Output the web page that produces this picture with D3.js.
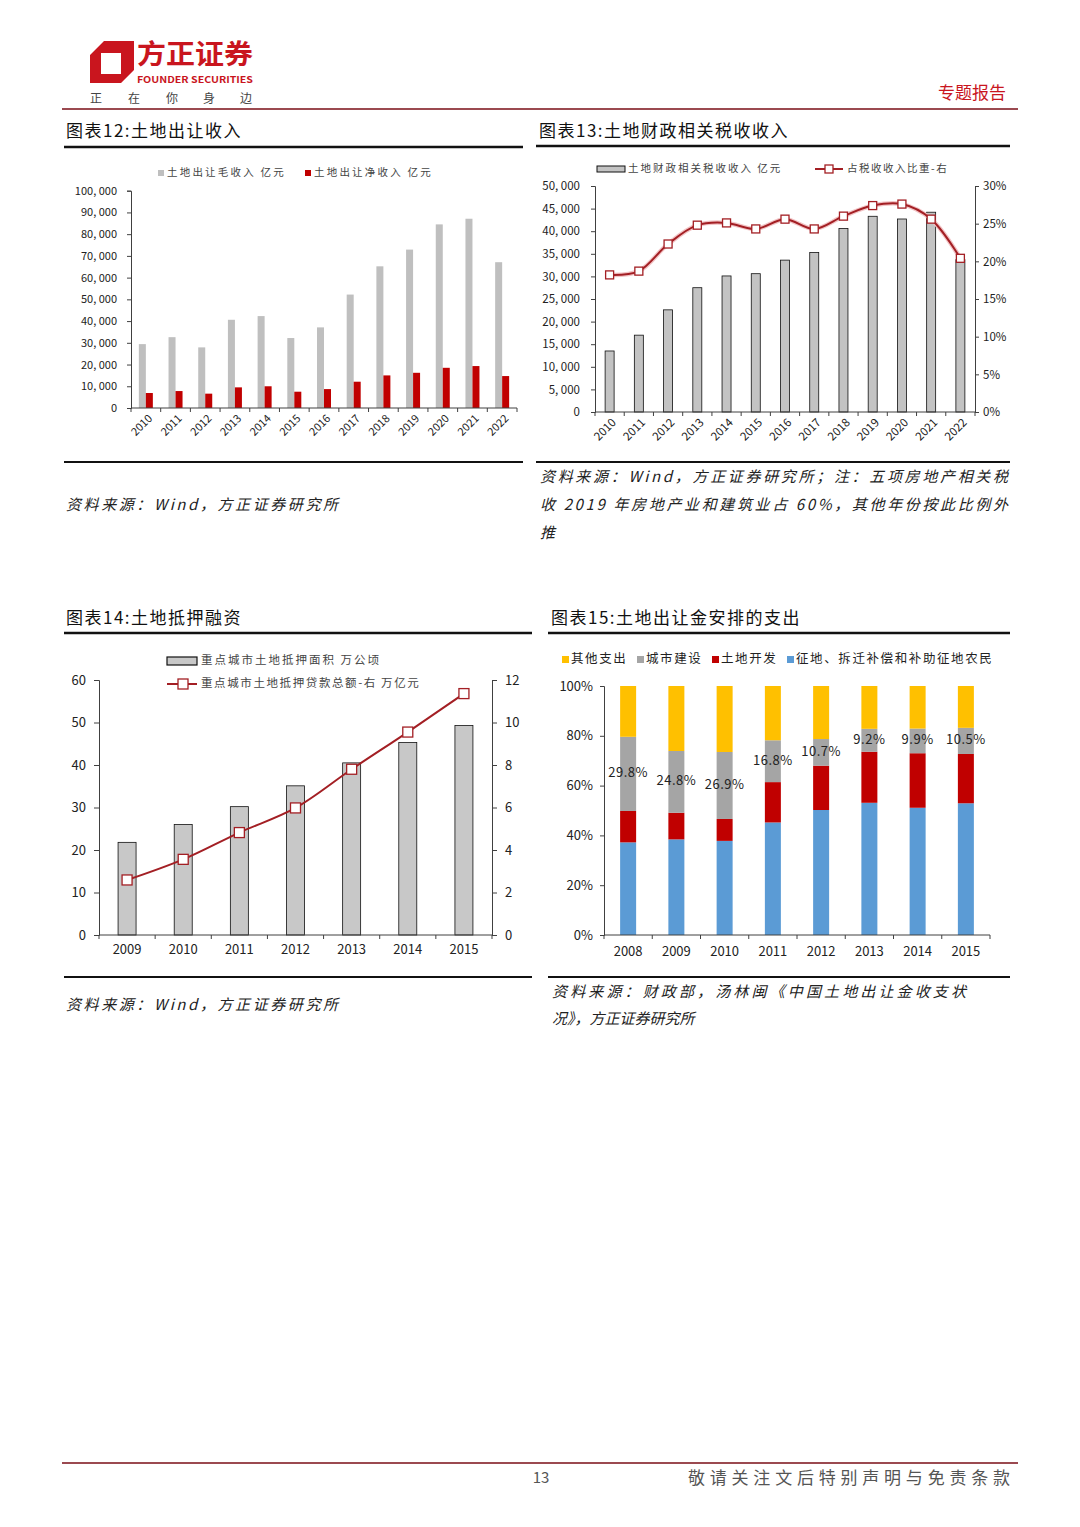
<!DOCTYPE html>
<html><head><meta charset="utf-8">
<script src="https://cdn.jsdelivr.net/npm/d3@7"></script>
<style>body{margin:0;background:#fff}svg{display:block}</style>
</head><body><div id="chart"></div>
<script>
// ---------------- DATA ----------------
const years12 = ["2010","2011","2012","2013","2014","2015","2016","2017","2018","2019","2020","2021","2022"];
const grossIncome12 = [29400,32600,27900,40600,42300,32200,37100,52200,65200,72900,84500,87100,67100];
const netIncome12 = [6900,7800,6600,9500,10000,7500,8700,12100,15000,16200,18500,19300,14700];
const yTicks12 = [0,10000,20000,30000,40000,50000,60000,70000,80000,90000,100000];
const legend12 = ["土地出让毛收入 亿元","土地出让净收入 亿元"];

const years13 = ["2010","2011","2012","2013","2014","2015","2016","2017","2018","2019","2020","2021","2022"];
const taxRevenue13 = [13500,17000,22600,27500,30100,30600,33600,35300,40600,43300,42700,44200,33700];
const taxShare13 = [18.2,18.7,22.3,24.8,25.1,24.3,25.6,24.3,26.0,27.4,27.6,25.6,20.4];
const yTicks13 = [0,5000,10000,15000,20000,25000,30000,35000,40000,45000,50000];
const yTicks13R = [0,5,10,15,20,25,30];
const legend13 = ["土地财政相关税收收入 亿元","占税收收入比重-右"];

const years14 = ["2009","2010","2011","2012","2013","2014","2015"];
const mortgageArea14 = [21.8,26.0,30.2,35.1,40.5,45.3,49.3];
const mortgageLoan14 = [2.59,3.56,4.82,5.98,7.80,9.55,11.36];
const yTicks14 = [0,10,20,30,40,50,60];
const yTicks14R = [0,2,4,6,8,10,12];
const legend14 = ["重点城市土地抵押面积 万公顷","重点城市土地抵押贷款总额-右 万亿元"];

const years15 = ["2008","2009","2010","2011","2012","2013","2014","2015"];
const compensation15 = [37.2,38.4,37.8,45.2,50.2,53.1,51.1,52.9];
const landDev15 = [12.6,10.7,8.8,16.2,17.8,20.5,21.9,19.8];
const urbanCons15 = [29.8,24.8,26.9,16.8,10.7,9.2,9.9,10.5];
const other15 = [20.4,26.1,26.5,21.8,21.3,17.2,17.1,16.8];
const yTicks15 = [0,20,40,60,80,100];
const legend15 = ["其他支出","城市建设","土地开发","征地、拆迁补偿和补助征地农民"];

// ---------------- SETUP ----------------
const FONT = "'Noto Sans CJK SC','Noto Sans',sans-serif";
const AX = "#404040";
const RED_LINE = "#A31F24";
const svg = d3.select("#chart").append("svg").attr("width",1080).attr("height",1527)
  .style("font-family",FONT);
svg.append("rect").attr("width",1080).attr("height",1527).attr("fill","#fff");

// ---------------- HEADER / FOOTER ----------------
svg.append("path").attr("fill","#C9151E").attr("fill-rule","evenodd")
  .attr("d","M104,41 L134,41 L134,70 L121,83 L90,83 L90,55 Z M101,53 L121,53 L121,74 L101,74 Z");
svg.append("text").attr("x",137).attr("y",64).attr("font-size",27).attr("font-weight","bold")
  .attr("fill","#C9151E").attr("textLength",116).attr("lengthAdjust","spacingAndGlyphs").text("方正证券");
svg.append("text").attr("x",137).attr("y",83).attr("font-size",9).attr("font-weight","bold")
  .attr("fill","#C9151E").attr("textLength",116).attr("lengthAdjust","spacingAndGlyphs").text("FOUNDER SECURITIES");
const slogan = ["正","在","你","身","边"];
const sloganX = [90,128,166,203,240];
slogan.forEach((c,i)=>svg.append("text").attr("x",sloganX[i]).attr("y",103).attr("font-size",12)
  .attr("fill","#444").text(c));
svg.append("text").attr("x",1006).attr("y",99).attr("text-anchor","end").attr("font-size",17)
  .attr("fill","#C9151E").text("专题报告");
svg.append("line").attr("x1",62).attr("x2",1018).attr("y1",109).attr("y2",109)
  .attr("stroke","#9B4A50").attr("stroke-width",2);
svg.append("line").attr("x1",62).attr("x2",1018).attr("y1",1463).attr("y2",1463)
  .attr("stroke","#9B4A50").attr("stroke-width",2);
svg.append("text").attr("x",541).attr("y",1483).attr("text-anchor","middle").attr("font-size",15)
  .attr("fill","#555").text("13");
svg.append("text").attr("x",688).attr("y",1484).attr("font-size",17).attr("fill","#555")
  .attr("textLength",322).attr("lengthAdjust","spacing").text("敬请关注文后特别声明与免责条款");

// ---------------- HELPERS ----------------
function title(x,y,txt,x1,x2,ly){
  svg.append("text").attr("x",x).attr("y",y).attr("font-size",17).attr("fill","#111")
    .attr("dominant-baseline","middle").attr("letter-spacing",1.5).text(txt);
  svg.append("line").attr("x1",x1).attr("x2",x2).attr("y1",ly).attr("y2",ly)
    .attr("stroke","#111").attr("stroke-width",2.5);
}
function rule(x1,x2,y){
  svg.append("line").attr("x1",x1).attr("x2",x2).attr("y1",y).attr("y2",y)
    .attr("stroke","#111").attr("stroke-width",2);
}
function source(x,y,txt,len){
  const t = svg.append("text").attr("x",x).attr("y",y).attr("font-size",15).attr("fill","#222")
    .attr("font-style","italic").attr("dominant-baseline","middle").text(txt);
  if(len) t.attr("textLength",len).attr("lengthAdjust","spacing");
}
function styleAxis(g,fs){
  g.selectAll(".domain").attr("stroke",AX);
  g.selectAll(".tick line").attr("stroke",AX);
  g.selectAll(".tick text").attr("fill","#222").attr("font-size",fs).attr("font-family",FONT);
}
function bandTicks(x,y0,len){
  const bounds = x.domain().map(d=>x(d)).concat([x.range()[1]]);
  svg.append("g").selectAll("line").data(bounds).join("line")
    .attr("x1",d=>d).attr("x2",d=>d).attr("y1",y0).attr("y2",y0+len).attr("stroke",AX);
}
function squareMarkers(data,xf,yf,size){
  svg.append("g").selectAll("rect").data(data).join("rect")
    .attr("x",(d,i)=>xf(d,i)-size/2).attr("y",(d,i)=>yf(d,i)-size/2)
    .attr("width",size).attr("height",size).attr("fill","#fff").attr("stroke",RED_LINE).attr("stroke-width",1.3);
}
const fmt = d => d3.format(",")(d).replace(/,/g,", ");

// ---------------- CHART 12 ----------------
title(66,132,"图表12:土地出让收入",64,523,147);
{
  const x = d3.scaleBand().domain(years12).range([131,517]);
  const y = d3.scaleLinear().domain([0,100000]).range([408,190.7]);
  const bw = 7;
  svg.append("g").selectAll("rect").data(grossIncome12).join("rect")
    .attr("x",(d,i)=>x(years12[i])+x.bandwidth()/2-bw).attr("width",bw)
    .attr("y",d=>y(d)).attr("height",d=>y(0)-y(d)).attr("fill","#BFBFBF");
  svg.append("g").selectAll("rect").data(netIncome12).join("rect")
    .attr("x",(d,i)=>x(years12[i])+x.bandwidth()/2).attr("width",bw)
    .attr("y",d=>y(d)).attr("height",d=>y(0)-y(d)).attr("fill","#C00000");
  const gy = svg.append("g").attr("transform","translate(131,0)")
    .call(d3.axisLeft(y).tickValues(yTicks12).tickSize(4).tickPadding(10).tickFormat(fmt));
  styleAxis(gy,11);
  svg.append("line").attr("x1",131).attr("x2",517).attr("y1",408).attr("y2",408).attr("stroke",AX);
  bandTicks(x,408,4);
  svg.append("g").selectAll("text").data(years12).join("text")
    .attr("transform",d=>`translate(${x(d)+x.bandwidth()/2+5},${417}) rotate(-45)`)
    .attr("text-anchor","end").attr("dominant-baseline","middle").attr("font-size",11).attr("fill","#222").text(d=>d);
  // legend
  svg.append("rect").attr("x",158).attr("y",170).attr("width",6).attr("height",6).attr("fill","#BFBFBF");
  svg.append("text").attr("x",167).attr("y",173).attr("font-size",10.5).attr("fill","#444")
    .attr("dominant-baseline","middle").attr("letter-spacing",2.2).text(legend12[0]);
  svg.append("rect").attr("x",305).attr("y",170).attr("width",6).attr("height",6).attr("fill","#C00000");
  svg.append("text").attr("x",314).attr("y",173).attr("font-size",10.5).attr("fill","#444")
    .attr("dominant-baseline","middle").attr("letter-spacing",2.2).text(legend12[1]);
}
rule(64,523,462);
source(66,506,"资料来源：Wind，方正证券研究所",272);

// ---------------- CHART 13 ----------------
title(539,132,"图表13:土地财政相关税收收入",536,1010,146);
{
  const x = d3.scaleBand().domain(years13).range([595,975]);
  const y = d3.scaleLinear().domain([0,50000]).range([412,186]);
  const yR = d3.scaleLinear().domain([0,30]).range([412,186]);
  const bw = 9;
  svg.append("g").selectAll("rect").data(taxRevenue13).join("rect")
    .attr("x",(d,i)=>x(years13[i])+x.bandwidth()/2-bw/2).attr("width",bw)
    .attr("y",d=>y(d)).attr("height",d=>y(0)-y(d)).attr("fill","#C3C3C3").attr("stroke","#111").attr("stroke-width",0.8);
  const cx = (d,i)=>x(years13[i])+x.bandwidth()/2;
  const line = d3.line().x(cx).y(d=>yR(d)).curve(d3.curveCatmullRom.alpha(0.5));
  svg.append("path").attr("d",line(taxShare13)).attr("fill","none").attr("stroke","#F2C4C6").attr("stroke-width",4.5);
  svg.append("path").attr("d",line(taxShare13)).attr("fill","none").attr("stroke",RED_LINE).attr("stroke-width",2);
  squareMarkers(taxShare13,cx,d=>yR(d),8);
  const gy = svg.append("g").attr("transform","translate(595,0)")
    .call(d3.axisLeft(y).tickValues(yTicks13).tickSize(4).tickPadding(11).tickFormat(fmt));
  styleAxis(gy,11.5);
  const gr = svg.append("g").attr("transform","translate(975,0)")
    .call(d3.axisRight(yR).tickValues(yTicks13R).tickSize(4).tickPadding(4).tickFormat(d=>d+"%"));
  styleAxis(gr,11.5);
  svg.append("line").attr("x1",595).attr("x2",975).attr("y1",412).attr("y2",412).attr("stroke",AX);
  bandTicks(x,412,4);
  svg.append("g").selectAll("text").data(years13).join("text")
    .attr("transform",d=>`translate(${x(d)+x.bandwidth()/2+5},${421}) rotate(-45)`)
    .attr("text-anchor","end").attr("dominant-baseline","middle").attr("font-size",11.5).attr("fill","#222").text(d=>d);
  // legend
  svg.append("rect").attr("x",597).attr("y",166).attr("width",28).attr("height",6).attr("fill","#C3C3C3").attr("stroke","#111");
  svg.append("text").attr("x",628).attr("y",169).attr("font-size",10.5).attr("fill","#444")
    .attr("dominant-baseline","middle").attr("letter-spacing",2).text(legend13[0]);
  svg.append("line").attr("x1",815).attr("x2",843).attr("y1",169).attr("y2",169).attr("stroke",RED_LINE).attr("stroke-width",2);
  svg.append("rect").attr("x",825).attr("y",165).attr("width",8).attr("height",8).attr("fill","#fff").attr("stroke",RED_LINE).attr("stroke-width",1.3);
  svg.append("text").attr("x",847).attr("y",169).attr("font-size",10.5).attr("fill","#444")
    .attr("dominant-baseline","middle").attr("letter-spacing",1.5).text(legend13[1]);
}
rule(536,1010,462);
source(540,478,"资料来源：Wind，方正证券研究所；注：五项房地产相关税",468);
source(540,506,"收 2019 年房地产业和建筑业占 60%，其他年份按此比例外",468);
source(540,534,"推");

// ---------------- CHART 14 ----------------
title(66,619,"图表14:土地抵押融资",64,532,633);
{
  const x = d3.scaleBand().domain(years14).range([99,492]);
  const y = d3.scaleLinear().domain([0,60]).range([935,680]);
  const yR = d3.scaleLinear().domain([0,12]).range([935,680]);
  const bw = 18;
  svg.append("g").selectAll("rect").data(mortgageArea14).join("rect")
    .attr("x",(d,i)=>x(years14[i])+x.bandwidth()/2-bw/2).attr("width",bw)
    .attr("y",d=>y(d)).attr("height",d=>y(0)-y(d)).attr("fill","#C8C8C8").attr("stroke","#111").attr("stroke-width",0.8);
  const cx = (d,i)=>x(years14[i])+x.bandwidth()/2;
  const line = d3.line().x(cx).y(d=>yR(d)).curve(d3.curveCatmullRom.alpha(0.5));
  svg.append("path").attr("d",line(mortgageLoan14)).attr("fill","none").attr("stroke",RED_LINE).attr("stroke-width",2);
  squareMarkers(mortgageLoan14,cx,d=>yR(d),10);
  const gy = svg.append("g").attr("transform","translate(99,0)")
    .call(d3.axisLeft(y).tickValues(yTicks14).tickSize(5).tickPadding(8));
  styleAxis(gy,13);
  const gr = svg.append("g").attr("transform","translate(492,0)")
    .call(d3.axisRight(yR).tickValues(yTicks14R).tickSize(5).tickPadding(8));
  styleAxis(gr,13);
  svg.append("line").attr("x1",99).attr("x2",492).attr("y1",935).attr("y2",935).attr("stroke",AX);
  bandTicks(x,935,4);
  svg.append("g").selectAll("text").data(years14).join("text")
    .attr("x",d=>x(d)+x.bandwidth()/2).attr("y",950).attr("text-anchor","middle")
    .attr("dominant-baseline","middle").attr("font-size",13).attr("fill","#222").text(d=>d);
  // legend
  svg.append("rect").attr("x",167).attr("y",657).attr("width",30).attr("height",8).attr("fill","#C8C8C8").attr("stroke","#111").attr("stroke-width",1.2);
  svg.append("text").attr("x",201).attr("y",661).attr("font-size",11.5).attr("fill","#444")
    .attr("dominant-baseline","middle").attr("letter-spacing",2).text(legend14[0]);
  svg.append("line").attr("x1",167).attr("x2",197).attr("y1",684).attr("y2",684).attr("stroke",RED_LINE).attr("stroke-width",2);
  svg.append("rect").attr("x",178).attr("y",679).attr("width",10).attr("height",10).attr("fill","#fff").attr("stroke",RED_LINE).attr("stroke-width",1.3);
  svg.append("text").attr("x",201).attr("y",684).attr("font-size",11.5).attr("fill","#444")
    .attr("dominant-baseline","middle").attr("letter-spacing",1.6).text(legend14[1]);
}
rule(64,532,977);
source(66,1006,"资料来源：Wind，方正证券研究所",272);

// ---------------- CHART 15 ----------------
title(551,619,"图表15:土地出让金安排的支出",548,1010,633);
{
  const keys = ["compensation","landDev","urbanCons","other"];
  const colors = {compensation:"#5B9BD5",landDev:"#C00000",urbanCons:"#A5A5A5",other:"#FFC000"};
  const rows = years15.map((yr,i)=>({year:yr,compensation:compensation15[i],landDev:landDev15[i],urbanCons:urbanCons15[i],other:other15[i]}));
  const stack = d3.stack().keys(keys)(rows);
  const x = d3.scaleBand().domain(years15).range([604,990]);
  const y = d3.scaleLinear().domain([0,100]).range([935,686]);
  const bw = 16;
  stack.forEach(s=>{
    svg.append("g").selectAll("rect").data(s).join("rect")
      .attr("x",d=>x(d.data.year)+x.bandwidth()/2-bw/2).attr("width",bw)
      .attr("y",d=>y(d[1])).attr("height",d=>y(d[0])-y(d[1])).attr("fill",colors[s.key]);
  });
  const gs = stack.find(s=>s.key==="urbanCons");
  svg.append("g").selectAll("text").data(gs).join("text")
    .attr("x",d=>x(d.data.year)+x.bandwidth()/2).attr("y",d=>y((d[0]+d[1])/2))
    .attr("text-anchor","middle").attr("dominant-baseline","middle").attr("font-size",13).attr("fill","#222")
    .attr("letter-spacing",0.5)
    .text(d=>d3.format(".1f")(d.data.urbanCons)+"%");
  const gy = svg.append("g").attr("transform","translate(604,0)")
    .call(d3.axisLeft(y).tickValues(yTicks15).tickSize(4).tickPadding(7).tickFormat(d=>d+"%"));
  styleAxis(gy,13);
  svg.append("line").attr("x1",604).attr("x2",990).attr("y1",935).attr("y2",935).attr("stroke",AX);
  bandTicks(x,935,4);
  svg.append("g").selectAll("text").data(years15).join("text")
    .attr("x",d=>x(d)+x.bandwidth()/2).attr("y",952).attr("text-anchor","middle")
    .attr("dominant-baseline","middle").attr("font-size",13).attr("fill","#222").text(d=>d);
  // legend
  const lx = [562,637,712,787];
  const lkeys = ["other","urbanCons","landDev","compensation"];
  legend15.forEach((t,i)=>{
    svg.append("rect").attr("x",lx[i]).attr("y",656).attr("width",7).attr("height",7).attr("fill",colors[lkeys[i]]);
    svg.append("text").attr("x",lx[i]+9).attr("y",660).attr("font-size",12.5).attr("fill","#222")
      .attr("dominant-baseline","middle").attr("letter-spacing",1.6).text(t);
  });
}
rule(548,1010,977);
source(552,993,"资料来源：财政部，汤林闽《中国土地出让金收支状",414);
source(552,1020,"况》，方正证券研究所");
</script></body></html>
